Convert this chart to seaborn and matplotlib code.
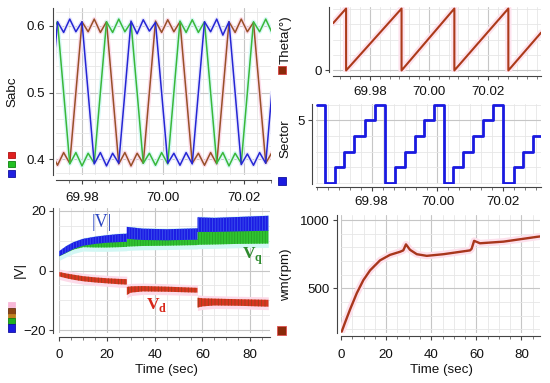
import numpy as np
import pandas as pd
import matplotlib
matplotlib.use("Agg")
import matplotlib.pyplot as plt
import seaborn as sns
from matplotlib.patches import Rectangle
from matplotlib.ticker import MultipleLocator

# ---- data ----
# three phase duty signals, sampled every 1/12 of an electrical period
sabc_t0 = 69.97244
sabc_dt = 0.0015123
sabc_blue = [0.500, 0.606, 0.590, 0.610, 0.591, 0.606, 0.500, 0.393, 0.410, 0.390, 0.409, 0.394,
             0.500, 0.607, 0.588, 0.609, 0.592, 0.605, 0.500, 0.394, 0.409, 0.391, 0.410, 0.393,
             0.500, 0.606, 0.591, 0.610, 0.586, 0.606, 0.500, 0.392, 0.408, 0.391, 0.410, 0.394, 0.500]
sabc_brown = [0.409, 0.391, 0.410, 0.394, 0.500, 0.606, 0.591, 0.610, 0.590, 0.606, 0.500, 0.393,
              0.410, 0.390, 0.409, 0.394, 0.500, 0.607, 0.590, 0.609, 0.591, 0.606, 0.500, 0.394,
              0.409, 0.391, 0.410, 0.393, 0.500, 0.606, 0.590, 0.610, 0.591, 0.605, 0.500, 0.394, 0.410]
sabc_green = [0.591, 0.606, 0.500, 0.393, 0.410, 0.390, 0.409, 0.394, 0.500, 0.606, 0.590, 0.610,
              0.591, 0.605, 0.500, 0.394, 0.409, 0.391, 0.410, 0.393, 0.500, 0.607, 0.590, 0.609,
              0.590, 0.606, 0.500, 0.394, 0.410, 0.390, 0.409, 0.394, 0.500, 0.606, 0.591, 0.610, 0.590]

theta_t = [69.9675, 69.9719, 69.9719, 69.9907, 69.9907, 70.0086, 70.0086, 70.0269, 70.0269, 70.0380]
theta_v = [275, 360, 0, 360, 0, 360, 0, 360, 0, 220]

sector_t = [69.9633, 69.9658, 69.9689, 69.9716, 69.9746, 69.9780, 69.9810, 69.9840, 69.9871,
            69.9901, 69.9932, 69.9959, 69.9989, 70.0020, 70.0048, 70.0078, 70.0109, 70.0139,
            70.0168, 70.0200, 70.0233, 70.0261, 70.0289, 70.0317]
sector_v = [6, 1, 2, 3, 4, 5, 6, 1, 2, 3, 4, 5, 6, 1, 2, 3, 4, 5, 6, 1, 2, 3, 4, 4]

v_t = [0, 3, 6, 10, 15, 20, 25, 28.3, 28.3, 35, 45, 57.9, 57.9, 65, 75, 87.6]
vmag_hi = [6.5, 8.2, 9.5, 10.6, 11.3, 11.8, 12.2, 12.3, 14.6, 14.0, 13.8, 14.1, 17.8, 17.6, 17.9, 18.3]
vmag_lo = [4.8, 6.0, 7.2, 8.3, 8.9, 9.3, 9.5, 9.6, 10.6, 10.2, 10.1, 10.3, 12.9, 12.9, 13.1, 13.3]
vq_hi = [5.0, 6.3, 7.5, 8.6, 9.1, 9.5, 9.7, 9.8, 10.8, 10.4, 10.3, 10.5, 13.2, 13.1, 13.3, 13.5]
vq_lo = [4.7, 5.9, 7.0, 7.8, 7.7, 7.7, 7.8, 7.9, 8.0, 8.2, 8.3, 8.5, 8.6, 8.7, 8.9, 9.0]

vd_t = [0, 3, 6, 10, 15, 20, 25, 28.3, 28.3, 30, 35, 45, 57.9, 57.9, 60, 65, 75, 87.6]
vd_hi = [-0.5, -1.0, -1.4, -1.9, -2.3, -2.6, -2.8, -2.9, -5.5, -5.3, -5.2, -5.4, -5.8,
         -9.1, -9.3, -9.4, -9.6, -9.8]
vd_lo = [-2.0, -2.6, -3.1, -3.6, -4.0, -4.3, -4.6, -4.7, -8.2, -7.4, -7.0, -7.1, -7.4,
         -12.4, -12.0, -11.7, -11.8, -12.1]

wm_t = [0.3, 1.8, 4.0, 7.0, 9.9, 12.9, 17.3, 21.7, 26.2, 27.6, 28.8, 30.6, 33.6, 38, 45.4,
        57.2, 57.9, 59.0, 61.6, 72, 86.8, 88.2]
wm_v = [183, 250, 345, 465, 560, 632, 705, 745, 768, 778, 822, 782, 750, 738, 750,
        778, 790, 848, 830, 842, 877, 880]

time_ticks = [69.98, 70.00, 70.02]
time_labels = ["69.98", "70.00", "70.02"]

# ---- figure ----
sns.set_theme(style="white")
plt.rcParams["font.family"] = ["Liberation Sans", "DejaVu Sans"]
plt.rcParams["mathtext.fontset"] = "custom"
plt.rcParams["mathtext.rm"] = "Liberation Serif"
plt.rcParams["mathtext.bf"] = "Liberation Serif:bold"
plt.rcParams["hatch.linewidth"] = 0.6

W, H = 550, 383
fig = plt.figure(figsize=(5.5, 3.83), dpi=100)


def box(l, t, r, b):
    return [l / W, 1 - b / H, (r - l) / W, (b - t) / H]


def style(ax, xoff, yoff, xpad, ypad, xminor, yminor):
    for s in ["top", "right"]:
        ax.spines[s].set_visible(False)
    ax.spines["left"].set_position(("outward", yoff))
    ax.spines["bottom"].set_position(("outward", xoff))
    for s in ["left", "bottom"]:
        ax.spines[s].set_color("#444444")
        ax.spines[s].set_linewidth(0.8)
    ax.xaxis.set_minor_locator(MultipleLocator(xminor))
    ax.yaxis.set_minor_locator(MultipleLocator(yminor))
    ax.grid(which="major", color="#c6c6c6", lw=0.8)
    ax.grid(which="minor", color="#e6e6e6", lw=0.6)
    ax.tick_params(which="major", length=3, width=0.8, color="#444444",
                   labelsize=9.6, labelcolor="#111111", bottom=True, left=True)
    ax.tick_params(axis="x", which="major", pad=xpad)
    ax.tick_params(axis="y", which="major", pad=ypad)
    ax.tick_params(which="minor", length=1.8, width=0.6, color="#666666",
                   bottom=True, left=False)
    ax.set_xlabel("")
    ax.set_ylabel("")


def label(x, y, text, rot=90):
    fig.text(x / W, 1 - y / H, text, rotation=rot, ha="center", va="center",
             fontsize=9.6, color="#111111")


def swatch(x, y, w, h, fc, ec):
    fig.add_artist(Rectangle((x / W, 1 - (y + h) / H), w / W, h / H,
                             transform=fig.transFigure, facecolor=fc,
                             edgecolor=ec, linewidth=0.6))


# Sabc
ax1 = fig.add_axes(box(56, 8, 271, 175))
sabc_time = sabc_t0 + sabc_dt * np.arange(len(sabc_blue))
sabc = pd.DataFrame({"t": sabc_time, "a": sabc_brown, "b": sabc_green, "c": sabc_blue})
sabc_long = sabc.melt(id_vars="t", var_name="phase", value_name="s")
sns.lineplot(data=sabc_long, x="t", y="s", hue="phase", estimator=None, legend=False,
             palette={"a": "#fbdbe9", "b": "#d6f8f5", "c": "#e8e8fc"}, lw=3.0, ax=ax1)
sns.lineplot(data=sabc_long, x="t", y="s", hue="phase", estimator=None, legend=False,
             palette={"a": "#985028", "b": "#3ab83a", "c": "#2626d4"}, lw=1.1, ax=ax1)
ax1.set_xlim(69.97358, 70.02667)
ax1.set_ylim(0.3764, 0.6266)
ax1.set_xticks(time_ticks, labels=time_labels)
ax1.set_yticks([0.4, 0.5, 0.6], labels=["0.4", "0.5", "0.6"])
style(ax1, 3.6, 2.4, 5.5, 2.2, 0.02 / 6, 0.02)
label(12, 92, "Sabc")
swatch(7.5, 152, 7, 6, "#e02020", "#b01010")
swatch(7.5, 161, 7, 6, "#22c022", "#108010")
swatch(7.5, 170, 7, 6.5, "#2020e0", "#1010a0")

# Theta
ax2 = fig.add_axes(box(333, 7, 541, 72))
sns.lineplot(x=theta_t, y=theta_v, estimator=None, sort=False, color="#fde3ee", lw=4.5, ax=ax2)
sns.lineplot(x=theta_t, y=theta_v, estimator=None, sort=False, color="#ac3a1a", lw=1.5, ax=ax2)
ax2.set_xlim(69.96746, 70.03797)
ax2.set_ylim(-9, 369)
ax2.set_xticks(time_ticks, labels=time_labels)
ax2.set_yticks([0], labels=["0"])
style(ax2, 2.9, 2.9, 4.3, 2.2, 0.02 / 6, 90)
label(285.5, 40, "Theta(°)")
swatch(278, 66, 8, 8, "#8b2a0a", "#d84040")

# Sector
ax3 = fig.add_axes(box(316, 104, 541, 184))
sns.lineplot(x=sector_t, y=sector_v, estimator=None, sort=False, drawstyle="steps-post",
             color="#1a1ae0", lw=2, ax=ax3)
ax3.set_xlim(69.96307, 70.03146)
ax3.set_ylim(0.92, 6.06)
ax3.set_xticks(time_ticks, labels=time_labels)
ax3.set_yticks([5], labels=["5"])
style(ax3, 2.2, 2.9, 3.6, 2.2, 0.02 / 6, 1)
label(285, 139, "Sector")
swatch(278, 177, 8, 8, "#1a1ae0", "#1010a0")

# |V|, Vq, Vd
ax4 = fig.add_axes(box(59.3, 208.3, 270, 333.3))
ax4.fill_between(v_t, np.array(vq_lo) - 1.3, np.array(vmag_hi) + 0.4, color="#d2f7f4", lw=0)
ax4.fill_between(vd_t, np.array(vd_lo) - 1.0, np.array(vd_hi) + 1.0, color="#fcdbe9", lw=0)
ax4.fill_between(v_t, vq_lo, vq_hi, facecolor="#30c430", edgecolor="#26a226",
                 hatch="||||||", lw=0)
ax4.fill_between(v_t, vmag_lo, vmag_hi, facecolor="#1c1ce4", edgecolor="#3c54ec",
                 hatch="||||||", lw=0)
ax4.fill_between(vd_t, vd_lo, vd_hi, facecolor="#dc3420", edgecolor="#94461a",
                 hatch="|||||", lw=0)
ax4.set_xlim(0, 88.3)
ax4.set_ylim(-21, 20.8)
ax4.set_xticks([0, 20, 40, 60, 80])
ax4.set_yticks([-20, 0, 20])
style(ax4, 2.4, 4.3, 6.0, 2.2, 5, 5)
ax4.text(17.8, 15.9, "|V|", color="#2a44c0", fontsize=13, family="Liberation Serif",
         ha="center", va="center")
ax4.text(81.2, 4.6, r"$\mathbf{V}_\mathbf{q}$", color="#2e8a2e", fontsize=12.5,
         ha="center", va="center")
ax4.text(41, -11.4, r"$\mathbf{V}_\mathbf{d}$", color="#d8281a", fontsize=12.5,
         ha="center", va="center")
label(20, 270, "|V|")
label(166.7, 370, "Time (sec)", rot=0)
swatch(7.5, 302, 7, 5, "#f8b8d8", "#f8b8d8")
swatch(7.5, 308, 7, 6, "#8b4513", "#6a3010")
swatch(7.5, 314, 7, 4, "#c08020", "#c08020")
swatch(7.5, 318, 7, 6, "#20b020", "#108010")
swatch(7.5, 324, 7, 8, "#1a1ae0", "#1010a0")

# wm
ax5 = fig.add_axes(box(341, 215, 540, 333.3))
sns.lineplot(x=wm_t, y=wm_v, estimator=None, color="#fde0ec", lw=5, ax=ax5)
sns.lineplot(x=wm_t, y=wm_v, estimator=None, color="#a8361c", lw=1.7, ax=ax5)
ax5.set_xlim(0, 88.2)
ax5.set_ylim(171, 1037)
ax5.set_xticks([0, 20, 40, 60, 80])
ax5.set_yticks([500, 1000])
style(ax5, 1.7, 3.1, 6.5, 2.2, 5, 100)
label(286, 275, "wm(rpm)")
label(441.7, 370, "Time (sec)", rot=0)
swatch(277, 326, 9, 9, "#8b2a0a", "#e05050")

fig.savefig("out.png", dpi=100)
